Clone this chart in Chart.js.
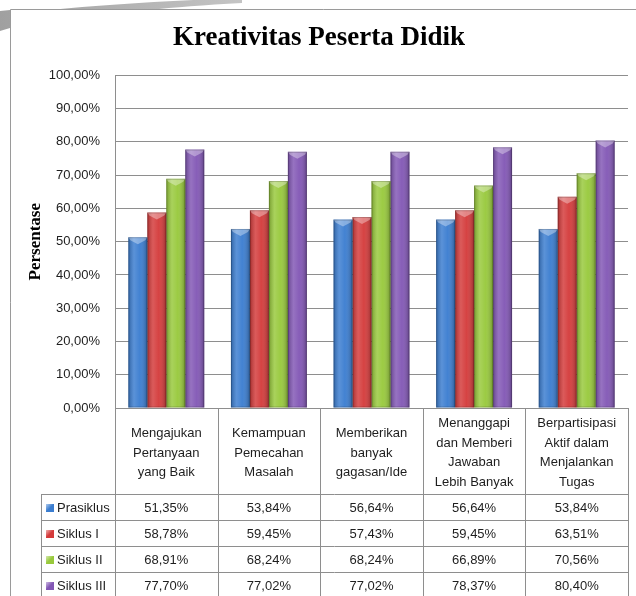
<!DOCTYPE html>
<html>
<head>
<meta charset="utf-8">
<title>Kreativitas Peserta Didik</title>
<script src="https://cdn.jsdelivr.net/npm/chart.js@4.4.1/dist/chart.umd.min.js"></script>
<style>
  html, body { margin: 0; padding: 0; background: #fff; }
  #wrap { width: 636px; height: 596px; }
</style>
</head>
<body>
<div id="wrap"><canvas id="kreativitasChart" width="636" height="596"></canvas></div>
<script>
// data
const categories = [
  ['Mengajukan', 'Pertanyaan', 'yang Baik'],
  ['Kemampuan', 'Pemecahan', 'Masalah'],
  ['Memberikan', 'banyak', 'gagasan/Ide'],
  ['Menanggapi', 'dan Memberi', 'Jawaban', 'Lebih Banyak'],
  ['Berpartisipasi', 'Aktif dalam', 'Menjalankan', 'Tugas']
];
const seriesNames = ['Prasiklus', 'Siklus I', 'Siklus II', 'Siklus III'];
const prasiklus = [51.35, 53.84, 56.64, 56.64, 53.84];
const siklus1 = [58.78, 59.45, 57.43, 59.45, 63.51];
const siklus2 = [68.91, 68.24, 68.24, 66.89, 70.56];
const siklus3 = [77.70, 77.02, 77.02, 78.37, 80.40];
const yMax = 100;
const yStep = 10;

const seriesColors = ['#3b7dd0', '#d43b3b', '#98c93c', '#8257b5'];

function pct(v) {
  return v.toFixed(2).replace('.', ',') + '%';
}

// page frame + grey swoosh in the top-left corner
const backdrop = {
  id: 'backdrop',
  beforeDraw(chart) {
    const c = chart.ctx;
    c.save();
    c.fillStyle = '#fff';
    c.fillRect(0, 0, chart.width, chart.height);
    const g = c.createLinearGradient(0, 0, 240, 0);
    g.addColorStop(0, '#a0a0a0');
    g.addColorStop(1, '#c4c4c4');
    c.fillStyle = g;
    // top band
    c.beginPath();
    c.moveTo(50, 10);
    c.quadraticCurveTo(130, 2, 242, -2);
    c.lineTo(242, 3);
    c.quadraticCurveTo(185, 6, 150, 10);
    c.closePath();
    c.fill();
    // left stub
    c.beginPath();
    c.moveTo(0, 11);
    c.lineTo(10, 10);
    c.lineTo(10, 28);
    c.lineTo(0, 31);
    c.closePath();
    c.fill();
    c.strokeStyle = '#9a9a9a';
    c.lineWidth = 1;
    c.beginPath();
    c.moveTo(10.5, chart.height);
    c.lineTo(10.5, 9.5);
    c.lineTo(chart.width, 9.5);
    c.stroke();
    c.restore();
  }
};

// excel-ish bevel on the bars
const barShade = {
  id: 'barShade',
  afterDatasetsDraw(chart) {
    const c = chart.ctx;
    c.save();
    chart.data.datasets.forEach((ds, di) => {
      chart.getDatasetMeta(di).data.forEach(bar => {
        const {x, y, width, base} = bar.getProps(['x', 'y', 'width', 'base'], true);
        const x0 = x - width / 2, x1 = x + width / 2;
        const g = c.createLinearGradient(x0, 0, x1, 0);
        g.addColorStop(0, 'rgba(0,0,0,0.22)');
        g.addColorStop(0.3, 'rgba(255,255,255,0.16)');
        g.addColorStop(0.6, 'rgba(255,255,255,0.04)');
        g.addColorStop(1, 'rgba(0,0,0,0.28)');
        c.fillStyle = g;
        c.fillRect(x0, y, width, base - y);
        c.fillStyle = 'rgba(255,255,255,0.35)';
        c.beginPath();
        c.moveTo(x0, y);
        c.lineTo(x1, y);
        c.lineTo(x1 - 2, y + 3);
        c.lineTo(x, y + 7);
        c.lineTo(x0 + 2, y + 3);
        c.closePath();
        c.fill();
        c.strokeStyle = 'rgba(0,0,0,0.18)';
        c.lineWidth = 1;
        c.strokeRect(x0 + 0.5, y + 0.5, width - 1, base - y - 1);
      });
    });
    c.restore();
  }
};

// data table under the plot
const dataTable = {
  id: 'dataTable',
  afterDraw(chart) {
    const c = chart.ctx, area = chart.chartArea, xs = chart.scales.x;
    const colW = (area.right - area.left) / categories.length;
    const headBottom = area.bottom + 86, rowH = 26, legendLeft = 41;
    c.save();
    c.strokeStyle = '#8e8e8e';
    c.lineWidth = 1;
    c.beginPath();
    for (let i = 0; i <= categories.length; i++) {
      const x = Math.round(area.left + i * colW) + 0.5;
      c.moveTo(x, area.bottom);
      c.lineTo(x, chart.height);
    }
    c.moveTo(legendLeft + 0.5, headBottom);
    c.lineTo(legendLeft + 0.5, chart.height);
    for (let r = 0; r <= seriesNames.length; r++) {
      const y = headBottom + r * rowH + 0.5;
      c.moveTo(legendLeft, y);
      c.lineTo(area.right, y);
    }
    c.stroke();

    c.fillStyle = '#1e1e1e';
    c.font = '13px "Liberation Sans"';
    c.textAlign = 'center';
    c.textBaseline = 'middle';
    const headMid = (area.bottom + headBottom) / 2 + 2, lh = 19.5;
    categories.forEach((lines, i) => {
      const x = xs.getPixelForValue(i);
      lines.forEach((t, k) => c.fillText(t, x, headMid + (k - (lines.length - 1) / 2) * lh));
    });

    chart.data.datasets.forEach((ds, r) => {
      const y = headBottom + r * rowH + rowH / 2 + 1;
      const sg = c.createLinearGradient(46, y - 4, 54, y + 4);
      sg.addColorStop(0, 'rgba(255,255,255,0.6)');
      sg.addColorStop(0.5, 'rgba(255,255,255,0)');
      c.fillStyle = ds.backgroundColor;
      c.fillRect(46, y - 4, 8, 8);
      c.fillStyle = sg;
      c.fillRect(46, y - 4, 8, 8);
      c.fillStyle = '#1e1e1e';
      c.textAlign = 'left';
      c.fillText(ds.label, 57, y);
      c.textAlign = 'center';
      ds.data.forEach((v, i) => c.fillText(pct(v), xs.getPixelForValue(i), y));
    });
    c.restore();
  }
};

const ctx = document.getElementById('kreativitasChart').getContext('2d');
const chart = new Chart(ctx, {
  type: 'bar',
  data: {
    labels: categories,
    datasets: [prasiklus, siklus1, siklus2, siklus3].map((d, i) => ({
      label: seriesNames[i],
      data: d,
      backgroundColor: seriesColors[i],
      borderWidth: 0,
      categoryPercentage: 0.74,
      barPercentage: 1
    }))
  },
  options: {
    responsive: false,
    devicePixelRatio: 1,
    animation: false,
    layout: { padding: { left: 10, right: 8, top: 10, bottom: 188 } },
    scales: {
      x: { display: false },
      y: {
        min: 0,
        max: yMax,
        afterFit(scale) { scale.width = 105; },
        ticks: {
          stepSize: yStep,
          padding: 15,
          color: '#1e1e1e',
          font: { family: 'Liberation Sans', size: 13 },
          callback: v => pct(v)
        },
        grid: { color: '#8e8e8e', drawTicks: false },
        border: { color: '#8e8e8e' },
        title: {
          display: true,
          text: 'Persentase',
          color: '#000',
          font: { family: 'Liberation Serif', size: 17, weight: 'bold' },
          padding: { top: 15, bottom: 0 }
        }
      }
    },
    plugins: {
      legend: { display: false },
      tooltip: { enabled: false },
      title: {
        display: true,
        text: 'Kreativitas Peserta Didik',
        color: '#000',
        font: { family: 'Liberation Serif', size: 27, weight: 'bold' },
        padding: { top: 12, bottom: 21 }
      }
    }
  },
  plugins: [backdrop, barShade, dataTable]
});
</script>
</body>
</html>
